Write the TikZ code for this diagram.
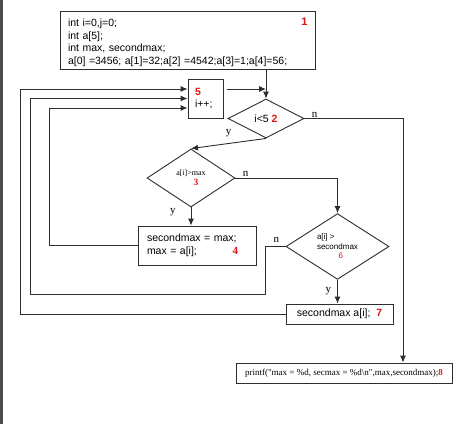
\documentclass[tikz,border=0pt]{standalone}
\usepackage{fontspec}
\usepackage{xcolor}
\setmainfont{Liberation Sans}
\newfontfamily\tms{Liberation Serif}
\usetikzlibrary{shapes.geometric,arrows.meta}

\definecolor{linegray}{RGB}{45,45,45}
\definecolor{numred}{RGB}{220,20,20}

\begin{document}
\begin{tikzpicture}[x=1pt,y=-1pt,
    >={Latex[length=7pt,width=6pt]},
    line/.style={draw=linegray,line width=0.9pt},
    box/.style={draw=linegray,line width=0.9pt,rectangle,inner sep=0pt,font=\fontsize{10.5}{12.7}\selectfont},
    dec/.style={draw=linegray,line width=0.9pt,diamond,inner sep=0pt},
    num/.style={text=numred,font=\fontsize{11}{13}\selectfont\bfseries,inner sep=0pt},
    lbl/.style={font=\tms\fontsize{11}{13}\selectfont,inner sep=1pt}]
    \useasboundingbox (0,0) rectangle (474,424);
    \fill[gray!60!black] (0,0) rectangle (2.5,424);

    % boxes
    \node[box,minimum width=255pt,minimum height=58pt,text width=239pt,align=left] (b1) at (187.5,40)
        {\rule{0pt}{13pt}int i=0,j=0;\\int a[5];\\int max, secondmax;\\a[0] =3456; a[1]=32;a[2] =4542;a[3]=1;a[4]=56;};
    \node[num] (n1) at ([xshift=-11pt,yshift=-11pt]b1.north east) {1};
    \node[box,minimum width=35pt,minimum height=39pt,text width=21pt,align=left] (b5) at (205.5,98.5)
        {\textcolor{numred}{\bfseries 5}\\i++;};
    \node[box,minimum width=118pt,minimum height=39pt,text width=100pt,align=left] (b4) at (197,245.5)
        {secondmax = max;\\max = a[i];};
    \node[num,font=\tms\fontsize{11}{13}\selectfont\bfseries] (n4) at ([xshift=-21pt,yshift=-5.5pt]b4.east) {4};
    \node[box,minimum width=107pt,minimum height=20pt] (b7) at (339.5,314)
        {secondmax a[i];~~\textcolor{numred}{\bfseries 7}};
    \node[box,minimum width=216pt,minimum height=20pt,font=\tms\fontsize{9}{11}\selectfont] (b8) at (344,373)
        {printf("max = \%d, secmax = \%d\textbackslash n",max,secondmax);\textcolor{numred}{\bfseries 8}};

    % decisions
    \node[dec,minimum width=76pt,minimum height=39pt,font=\fontsize{10.5}{12.7}\selectfont] (d2) at (266,118.5)
        {i<5 \textcolor{numred}{\bfseries 2}};
    \node[dec,minimum width=88pt,minimum height=58pt,font=\tms\fontsize{8}{10}\selectfont,align=center] (d3) at (191,178)
        {a[i]>max\\\hspace*{10pt}\textcolor{numred}{\fontsize{9.5}{10}\selectfont\bfseries 3}};
    \node[dec,minimum width=103pt,minimum height=59pt,font=\fontsize{8}{9.5}\selectfont,align=left] (d6) at (337.5,246.5)
        {a[i] >\\secondmax\\\hspace*{21.5pt}\textcolor{numred}{6}};

    % connectors
    \draw[line,->] (b1.south -| d2.north) -- (d2.north);
    \draw[line,->,shorten <=4pt] ([yshift=9.5pt]b5.east) -- ([yshift=9.5pt]b5.east -| d2.north);
    \draw[line,->] (d2.east) node[lbl,above right,xshift=6pt] (ln2) {n} -| ([xshift=59pt]b8.north);
    \draw[line,->] (d2.south) -- node[lbl,above,yshift=5pt] (ly2) {y} (d3.north);
    \draw[line,->] (d3.east) node[lbl,above right,xshift=6pt] (ln3) {n} -| (d6.north);
    \draw[line,->] (d3.south) -- node[lbl,left,pos=0.25,xshift=-14pt] (ly3) {y} (d3.south |- b4.north);
    \draw[line,->] (d6.south) -- node[lbl,left,pos=0.46,xshift=-5pt] (ly6) {y} (d6.south |- b7.north);

    % loops back to i++
    \draw[line,->] (b4.west) -- ++(-88,0) |- ([yshift=-9.5pt]b5.west);
    \draw[line,->] (d6.west) node[lbl,above left,xshift=-5pt,yshift=3pt] (ln6) {n}
        -- ++(-20,0) -- ++(0,47.5) -- ++(-235,0) |- (b5.west);
    \draw[line,->] (b7.west) -- ++(-265,0) |- ([yshift=9.5pt]b5.west);
\end{tikzpicture}
\end{document}
